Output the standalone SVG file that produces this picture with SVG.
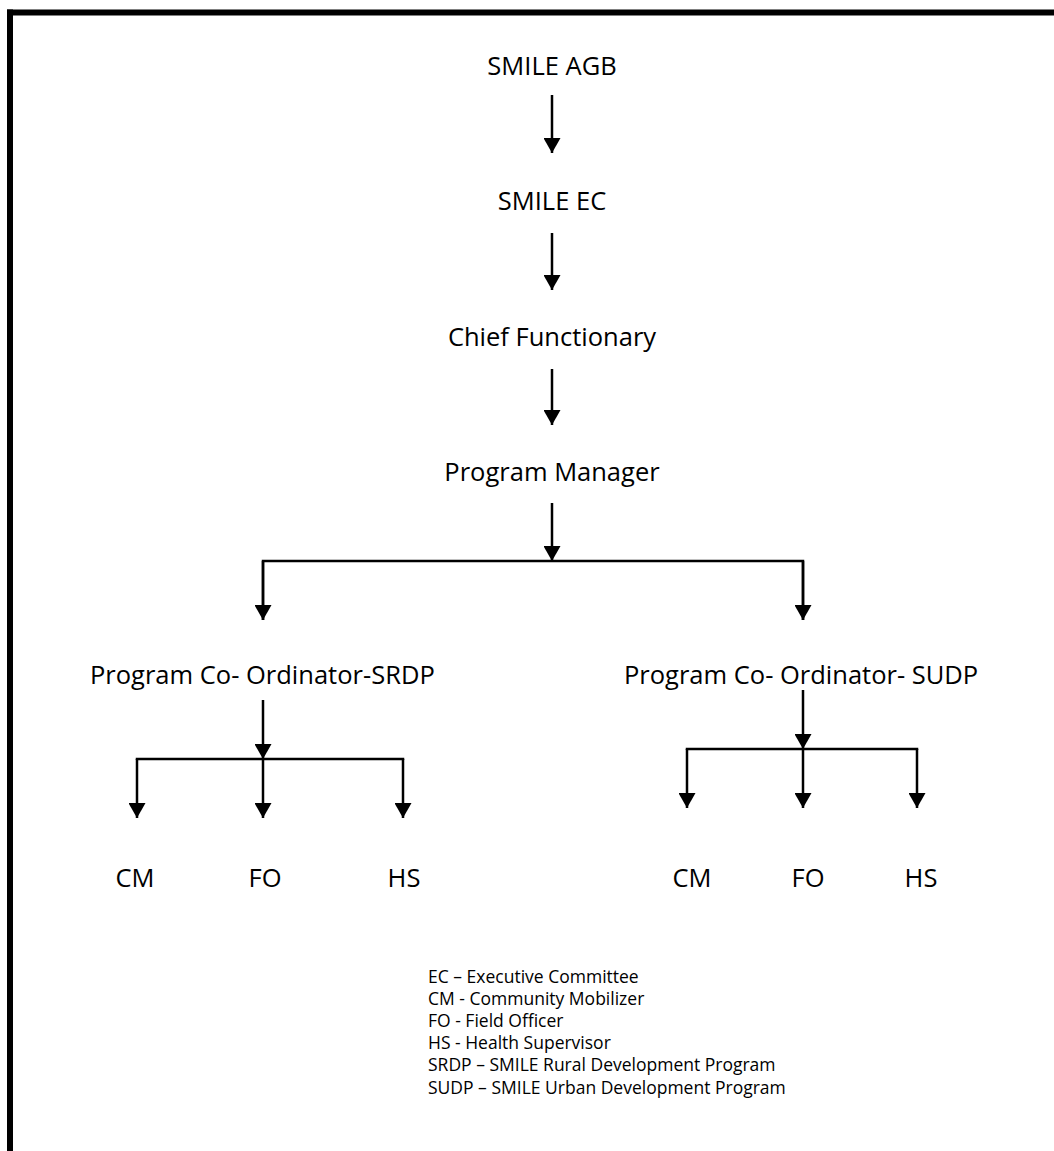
<svg xmlns="http://www.w3.org/2000/svg" width="1054" height="1151" viewBox="0 0 1054 1151">
<style>
.lbl{font-family:"Open Sans","Noto Sans","Liberation Sans",sans-serif;font-size:25.5px;fill:#000}
.mid{text-anchor:middle}
.leg{font-family:"Open Sans","Noto Sans","Liberation Sans",sans-serif;font-size:17.5px;fill:#000}
.c{stroke:#000;stroke-width:2.5;fill:none}
.a{marker-end:url(#ah)}
</style>
<defs>
<marker id="ah" markerUnits="userSpaceOnUse" viewBox="0 0 15 17" markerWidth="15" markerHeight="17" refX="15" refY="8.5" orient="auto">
<path d="M0,0 L15,8.5 L0,17 z" fill="#000"/>
</marker>
</defs>
<rect width="1054" height="1151" fill="#fff"/>
<g id="frame">
<line x1="7" y1="12.5" x2="1054" y2="12.5" stroke="#000" stroke-width="6"/>
<line x1="10" y1="9.5" x2="10" y2="1151" stroke="#000" stroke-width="6"/>
</g>
<g id="connectors">
<line class="c a" x1="552" y1="95" x2="552" y2="153"/>
<line class="c a" x1="552" y1="233" x2="552" y2="290"/>
<line class="c a" x1="552" y1="369" x2="552" y2="425"/>
<line class="c a" x1="552" y1="503" x2="552" y2="561"/>
<polyline class="c" points="263,620 263,561 803,561 803,620"/>
<line class="c a" x1="263" y1="561" x2="263" y2="620"/>
<line class="c a" x1="803" y1="561" x2="803" y2="620"/>
<line class="c a" x1="263" y1="700" x2="263" y2="759"/>
<polyline class="c" points="137,760 137,759 403,759 403,760"/>
<line class="c a" x1="137" y1="759" x2="137" y2="818"/>
<line class="c a" x1="263" y1="759" x2="263" y2="818"/>
<line class="c a" x1="403" y1="759" x2="403" y2="818"/>
<line class="c a" x1="803" y1="690" x2="803" y2="749"/>
<polyline class="c" points="687,750 687,749 917,749 917,750"/>
<line class="c a" x1="687" y1="749" x2="687" y2="808"/>
<line class="c a" x1="803" y1="749" x2="803" y2="808"/>
<line class="c a" x1="917" y1="749" x2="917" y2="808"/>
</g>
<g id="n-agb"><text class="lbl mid" x="552" y="75">SMILE AGB</text></g>
<g id="n-ec"><text class="lbl mid" x="552" y="210">SMILE EC</text></g>
<g id="n-chief"><text class="lbl mid" x="552" y="346">Chief Functionary</text></g>
<g id="n-pm"><text class="lbl mid" x="552" y="481">Program Manager</text></g>
<g id="n-pc-srdp"><text class="lbl" x="90" y="684">Program Co- Ordinator-SRDP</text></g>
<g id="n-pc-sudp"><text class="lbl" x="624" y="684">Program Co- Ordinator- SUDP</text></g>
<g id="n-cm1"><text class="lbl mid" x="135" y="887">CM</text></g>
<g id="n-fo1"><text class="lbl mid" x="265" y="887">FO</text></g>
<g id="n-hs1"><text class="lbl mid" x="404" y="887">HS</text></g>
<g id="n-cm2"><text class="lbl mid" x="692" y="887">CM</text></g>
<g id="n-fo2"><text class="lbl mid" x="808" y="887">FO</text></g>
<g id="n-hs2"><text class="lbl mid" x="921" y="887">HS</text></g>
<g id="legend">
<text class="leg" x="428" y="983">EC – Executive Committee</text>
<text class="leg" x="428" y="1005">CM - Community Mobilizer</text>
<text class="leg" x="428" y="1027">FO - Field Officer</text>
<text class="leg" x="428" y="1049">HS - Health Supervisor</text>
<text class="leg" x="428" y="1071">SRDP – SMILE Rural Development Program</text>
<text class="leg" x="428" y="1094">SUDP – SMILE Urban Development Program</text>
</g>
</svg>
